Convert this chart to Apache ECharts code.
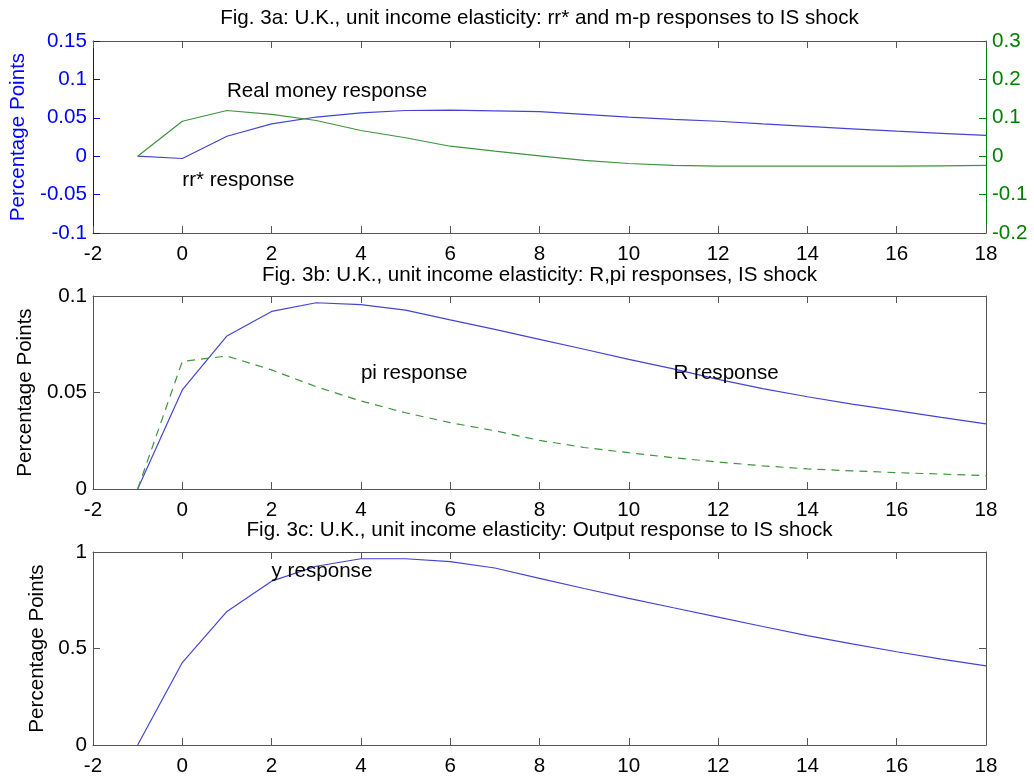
<!DOCTYPE html>
<html>
<head>
<meta charset="utf-8">
<title>U.K. impulse responses to IS shock</title>
<script src="https://cdn.jsdelivr.net/npm/echarts@6/dist/echarts.min.js"></script>
<style>
  html, body { margin: 0; padding: 0; background: #ffffff; }
  #chart { width: 1034px; height: 777px; }
</style>
</head>
<body>
<div id="chart"></div>
<script>
// Horizon (periods after the shock)
const periods = [-1, 0, 1, 2, 3, 4, 5, 6, 7, 8, 9, 10, 11, 12, 13, 14, 15, 16, 17, 18];

// Fig. 3a: rr* (left axis) and real money m-p (right axis)
const rrStar = [0, -0.003, 0.026, 0.042, 0.051, 0.0565, 0.0595, 0.06, 0.059, 0.058, 0.0545, 0.051, 0.048, 0.0455, 0.042, 0.0388, 0.0357, 0.0326, 0.0298, 0.027];
const realMoney = [0, 0.091, 0.119, 0.109, 0.093, 0.067, 0.048, 0.026, 0.013, 0.001, -0.011, -0.019, -0.024, -0.026, -0.026, -0.026, -0.026, -0.026, -0.025, -0.024];

// Fig. 3b: nominal rate R and inflation pi
const rResp = [0, 0.0513, 0.0793, 0.092, 0.0965, 0.0955, 0.0927, 0.0876, 0.0827, 0.0775, 0.0724, 0.0672, 0.0622, 0.0568, 0.052, 0.0478, 0.044, 0.0406, 0.0371, 0.0337];
const piResp = [0, 0.0661, 0.0689, 0.0617, 0.053, 0.0456, 0.0395, 0.0344, 0.0302, 0.0252, 0.0215, 0.0188, 0.0162, 0.014, 0.012, 0.0104, 0.0094, 0.0085, 0.0077, 0.0069];

// Fig. 3c: output y
const yResp = [0, 0.427, 0.692, 0.849, 0.926, 0.965, 0.965, 0.95, 0.917, 0.863, 0.811, 0.76, 0.711, 0.663, 0.614, 0.567, 0.524, 0.483, 0.445, 0.41];

// Panel titles
const titles = [
  'Fig. 3a: U.K., unit income elasticity: rr* and m-p responses to IS shock',
  'Fig. 3b: U.K., unit income elasticity: R,pi responses, IS shock',
  'Fig. 3c: U.K., unit income elasticity: Output response to IS shock'
];

// Text annotations: [x, y, text], left-aligned at (x, y)
const notesA = [[1, 0.085, 'Real money response'], [0, -0.031, 'rr* response']];
const notesB = [[4, 0.06, 'pi response'], [11, 0.06, 'R response']];
const notesC = [[2, 0.9, 'y response']];

// Axis scales
const xRange = { min: -2, max: 18, interval: 2 };
const yRangeA = { min: -0.1, max: 0.15, interval: 0.05 };
const yRangeA2 = { min: -0.2, max: 0.3, interval: 0.1 };
const yRangeB = { min: 0, max: 0.1, interval: 0.05 };
const yRangeC = { min: 0, max: 1, interval: 0.5 };

const FONT = 'Liberation Sans, Arial, sans-serif';
const FS = 20.6;
const BLUE = '#0000ff';
const BLUE_LINE = '#4444d4';
const GREEN = '#008000';
const GREEN_LINE = '#3f943f';
const BOX = '#555555';

const pair = (xs, ys) => xs.map((x, i) => [x, ys[i]]);

const PLOT_LEFT = 93;
const PLOT_WIDTH = 893;
const grids = [
  { left: PLOT_LEFT, top: 41, width: PLOT_WIDTH, height: 192 },
  { left: PLOT_LEFT, top: 296, width: PLOT_WIDTH, height: 193 },
  { left: PLOT_LEFT, top: 552, width: PLOT_WIDTH, height: 193 }
];

function bottomX(gi) {
  return Object.assign({
    type: 'value', gridIndex: gi, position: 'bottom',
    axisLine: { show: true, onZero: false, lineStyle: { color: BOX, width: 1 } },
    axisTick: { show: true, inside: true, length: 7, lineStyle: { color: BOX } },
    axisLabel: { show: true, color: '#000', fontFamily: FONT, fontSize: FS, margin: 11 },
    splitLine: { show: false }
  }, xRange);
}
function topX(gi) {
  return Object.assign({
    type: 'value', gridIndex: gi, position: 'top',
    axisLine: { show: true, onZero: false, lineStyle: { color: BOX, width: 1 } },
    axisTick: { show: true, inside: true, length: 7, lineStyle: { color: BOX } },
    axisLabel: { show: false },
    splitLine: { show: false }
  }, xRange);
}
function yAx(gi, range, pos, color, showLabels, name, nameGap) {
  return Object.assign({
    type: 'value', gridIndex: gi, position: pos,
    name: name || '', nameLocation: 'middle', nameGap: nameGap || 0, nameRotate: 90,
    nameTextStyle: { color: color === BOX ? '#000' : color, fontFamily: FONT, fontSize: FS },
    axisLine: { show: true, onZero: false, lineStyle: { color: color, width: 1 } },
    axisTick: { show: true, inside: true, length: 7, lineStyle: { color: color } },
    axisLabel: { show: showLabels, color: color === BOX ? '#000' : color, fontFamily: FONT, fontSize: FS, margin: 6 },
    splitLine: { show: false }
  }, range);
}

function notesSeries(xi, yi, notes) {
  return {
    type: 'scatter', xAxisIndex: xi, yAxisIndex: yi,
    symbolSize: 0, silent: true, z: 5,
    itemStyle: { opacity: 1 },
    data: notes.map(n => ({ value: [n[0], n[1]], name: n[2] })),
    label: {
      show: true, position: 'inside', align: 'left', verticalAlign: 'middle',
      formatter: p => p.name, color: '#000', opacity: 1, fontFamily: FONT, fontSize: FS
    }
  };
}

// Titles are centred over the plot area, not the whole canvas
const option = {
  backgroundColor: '#ffffff',
  animation: false,
  title: titles.map((t, i) => ({
    text: t, left: PLOT_LEFT + PLOT_WIDTH / 2 - 5, textAlign: 'center', top: [3, 260, 515][i],
    textStyle: { fontFamily: FONT, fontSize: FS, fontWeight: 'normal', color: '#000' }
  })),
  grid: grids,
  xAxis: [bottomX(0), topX(0), bottomX(1), topX(1), bottomX(2), topX(2)],
  yAxis: [
    yAx(0, yRangeA, 'left', BLUE, true, 'Percentage Points', 59),
    yAx(0, yRangeA2, 'right', GREEN, true),
    yAx(1, yRangeB, 'left', BOX, true, 'Percentage Points', 52),
    yAx(1, yRangeB, 'right', BOX, false),
    yAx(2, yRangeC, 'left', BOX, true, 'Percentage Points', 39),
    yAx(2, yRangeC, 'right', BOX, false)
  ],
  series: [
    {
      name: 'rr*', type: 'line', xAxisIndex: 0, yAxisIndex: 0,
      data: pair(periods, rrStar), showSymbol: false,
      lineStyle: { color: BLUE_LINE, width: 1.2 }
    },
    {
      name: 'm-p', type: 'line', xAxisIndex: 0, yAxisIndex: 1,
      data: pair(periods, realMoney), showSymbol: false,
      lineStyle: { color: GREEN_LINE, width: 1.2 }
    },
    notesSeries(0, 0, notesA),
    {
      name: 'R', type: 'line', xAxisIndex: 2, yAxisIndex: 2,
      data: pair(periods, rResp), showSymbol: false,
      lineStyle: { color: BLUE_LINE, width: 1.2 }
    },
    {
      name: 'pi', type: 'line', xAxisIndex: 2, yAxisIndex: 2,
      data: pair(periods, piResp), showSymbol: false,
      lineStyle: { color: GREEN_LINE, width: 1.2, type: [8, 6] }
    },
    notesSeries(2, 2, notesB),
    {
      name: 'y', type: 'line', xAxisIndex: 4, yAxisIndex: 4,
      data: pair(periods, yResp), showSymbol: false,
      lineStyle: { color: BLUE_LINE, width: 1.2 }
    },
    notesSeries(4, 4, notesC)
  ]
};

const chart = echarts.init(document.getElementById('chart'), null, { renderer: 'canvas' });
chart.setOption(option);
</script>
</body>
</html>
